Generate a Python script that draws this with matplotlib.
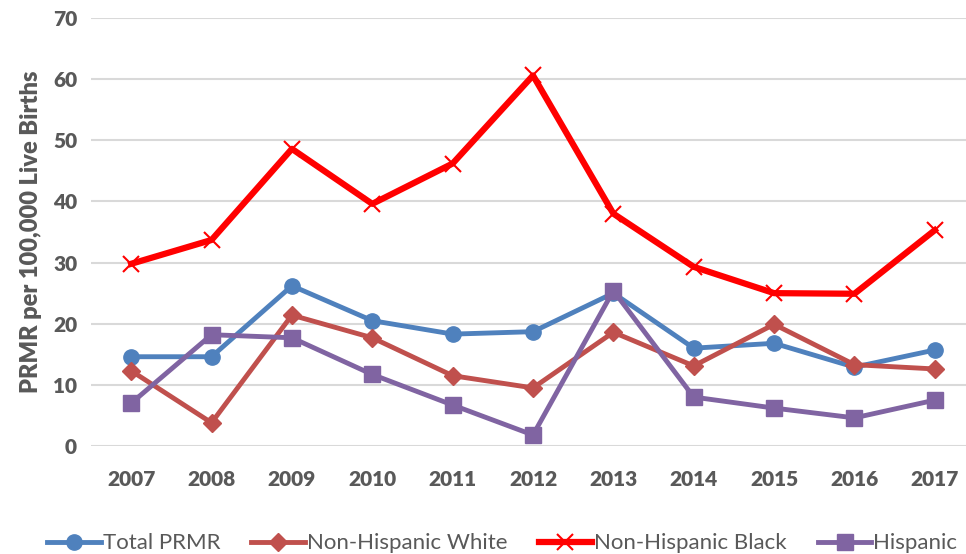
import matplotlib.pyplot as plt
import numpy as np

years = ["2007", "2008", "2009", "2010", "2011", "2012", "2013", "2014", "2015", "2016", "2017"]
total_prmr = [14.6, 14.6, 26.2, 20.5, 18.3, 18.7, 25.0, 16.0, 16.8, 12.9, 15.7]
nh_white = [12.3, 3.8, 21.4, 17.7, 11.5, 9.5, 18.6, 13.1, 19.9, 13.3, 12.6]
nh_black = [29.8, 33.7, 48.6, 39.6, 46.2, 60.6, 38.0, 29.3, 25.0, 24.9, 35.3]
hispanic = [7.0, 18.2, 17.7, 11.7, 6.7, 1.8, 25.4, 8.0, 6.2, 4.6, 7.5]

plt.rcParams["font.family"] = ["Lato", "DejaVu Sans"]
text_color = "#595959"

fig = plt.figure(figsize=(9.66, 5.54), dpi=100)
ax = fig.add_axes([91 / 966, 1 - 446 / 554, (975 - 91) / 966, (446 - 18) / 554])

x = np.arange(len(years))
ax.plot(x, total_prmr, color="#4F81BD", lw=3.5, marker="o", ms=11, label="Total PRMR", zorder=3)
ax.plot(x, nh_white, color="#C0504D", lw=3.5, marker="D", ms=9, label="Non-Hispanic White", zorder=3)
ax.plot(x, nh_black, color="#FF0000", lw=4.5, marker="x", ms=12, mew=1.5, label="Non-Hispanic Black", zorder=3)
ax.plot(x, hispanic, color="#8064A2", lw=3.5, marker="s", ms=11, label="Hispanic", zorder=4)

ax.set_xlim(-0.5, len(years) - 0.5)
ax.set_ylim(0, 70)
ax.set_yticks(range(0, 71, 10))
ax.set_xticks(x)
ax.set_xticklabels(years)
ax.grid(axis="y", color="#D9D9D9", lw=1.5, zorder=0)
ax.set_axisbelow(True)
for s in ax.spines.values():
    s.set_visible(False)
ax.tick_params(length=0, labelsize=15, labelcolor=text_color, pad=10)
ax.tick_params(axis="x", pad=17)
for lbl in ax.get_xticklabels() + ax.get_yticklabels():
    lbl.set_fontweight("heavy")

ax.set_ylabel("PRMR per 100,000 Live Births", fontsize=17, fontweight="heavy", color=text_color, labelpad=8)

fig.legend(loc="lower center", bbox_to_anchor=(0.52, -0.035), ncol=4, frameon=False,
           fontsize=16, labelcolor=text_color, handlelength=2.4, columnspacing=1.4, handletextpad=0.1)

fig.savefig("out.png", dpi=100)
